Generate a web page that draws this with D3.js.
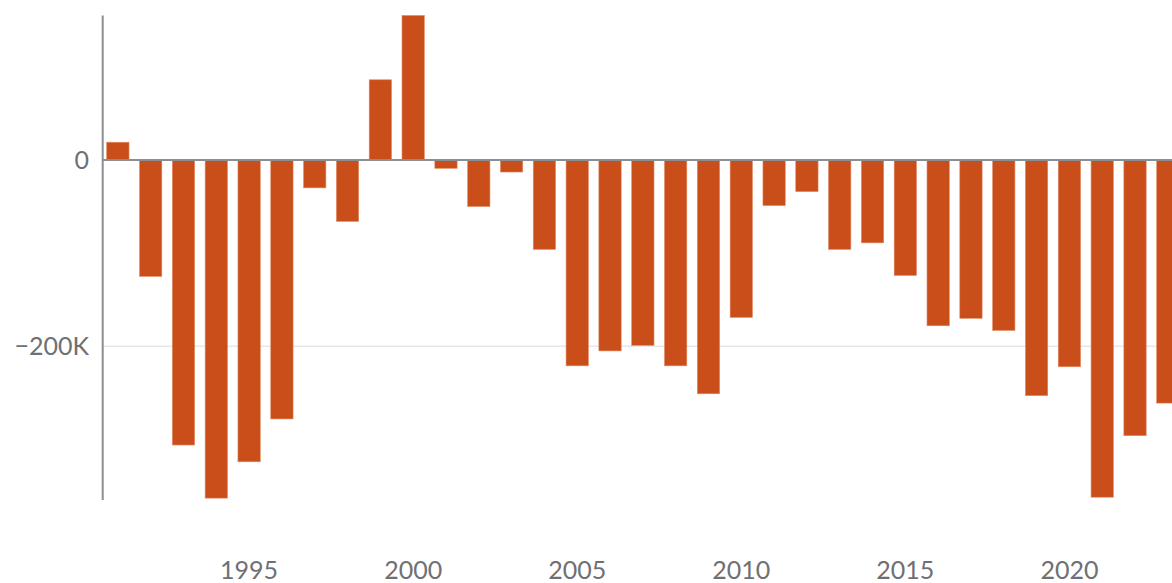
<!DOCTYPE html>
<html>
    <head>
        <meta charset="utf-8">
        <script src="https://cdn.jsdelivr.net/npm/d3@7/dist/d3.min.js"></script>
        <style type="text/css">
            body{
                margin: 0px;
                padding: 0;
                background-color: #fff;
            }
            svg{ display:block; }
            .lbl{ font-family: Lato, "Open Sans", sans-serif; font-size: 25px; fill: #6e7074; }
        </style>
    </head>
    <body>
        <svg id='chart' width='1172' height='583'></svg>

        <script>
        /* data (thousands) */
        var years = d3.range(1991, 2024);
        var values = [19, -125, -306, -363, -324, -278, -30, -66, 86, 155,
                      -9, -50, -13, -96, -221, -205, -199, -221, -251, -169,
                      -49, -34, -96, -89, -124, -178, -170, -183, -253, -222,
                      -362, -296, -261];
        var yTicks = [0, -200];
        var xTicks = [1995, 2000, 2005, 2010, 2015, 2020];

        var svg = d3.select('#chart');
        var axisX = 102.7;

        var x = d3.scaleBand()
            .domain(years)
            .range([axisX, 1183])
            .paddingInner(0.32)
            .paddingOuter(0.122);

        var y = d3.scaleLinear()
            .domain([-365, 155])
            .range([500, 15.5]);

        /* gridline at -200K */
        svg.append("line")
            .attr("x1", axisX).attr("x2", 1172)
            .attr("y1", y(-200)).attr("y2", y(-200))
            .attr("stroke", "#e6e7e8")
            .attr("stroke-width", 1.5);

        /* bars */
        svg.selectAll("rect.bar")
            .data(years)
            .enter().append("rect")
            .attr("class", "bar")
            .attr("x", function(d){ return x(d); })
            .attr("width", x.bandwidth())
            .attr("y", function(d, i){ return y(Math.max(0, values[i])); })
            .attr("height", function(d, i){ return Math.abs(y(values[i]) - y(0)); })
            .attr("fill", "#c94e1a")
            .attr("stroke", "#e08a63")
            .attr("stroke-width", 0.6);

        /* zero line and vertical axis */
        svg.append("line")
            .attr("x1", axisX).attr("x2", 1172)
            .attr("y1", y(0)).attr("y2", y(0))
            .attr("stroke", "#8a8d91")
            .attr("stroke-width", 2);
        svg.append("line")
            .attr("x1", axisX).attr("x2", axisX)
            .attr("y1", y(155)).attr("y2", y(-365))
            .attr("stroke", "#8a8d91")
            .attr("stroke-width", 2);

        /* y labels */
        svg.selectAll("text.ylab")
            .data(yTicks)
            .enter().append("text")
            .attr("class", "lbl ylab")
            .attr("x", 89)
            .attr("y", function(d){ return y(d); })
            .attr("dy", "0.35em")
            .attr("text-anchor", "end")
            .text(function(d){ return d === 0 ? "0" : "\u2212" + Math.abs(d) + "K"; });

        /* x labels */
        svg.selectAll("text.xlab")
            .data(xTicks)
            .enter().append("text")
            .attr("class", "lbl xlab")
            .attr("x", function(d){ return x(d) + x.bandwidth() / 2; })
            .attr("y", 579)
            .attr("text-anchor", "middle")
            .text(function(d){ return d; });
        </script>
    </body>
</html>
